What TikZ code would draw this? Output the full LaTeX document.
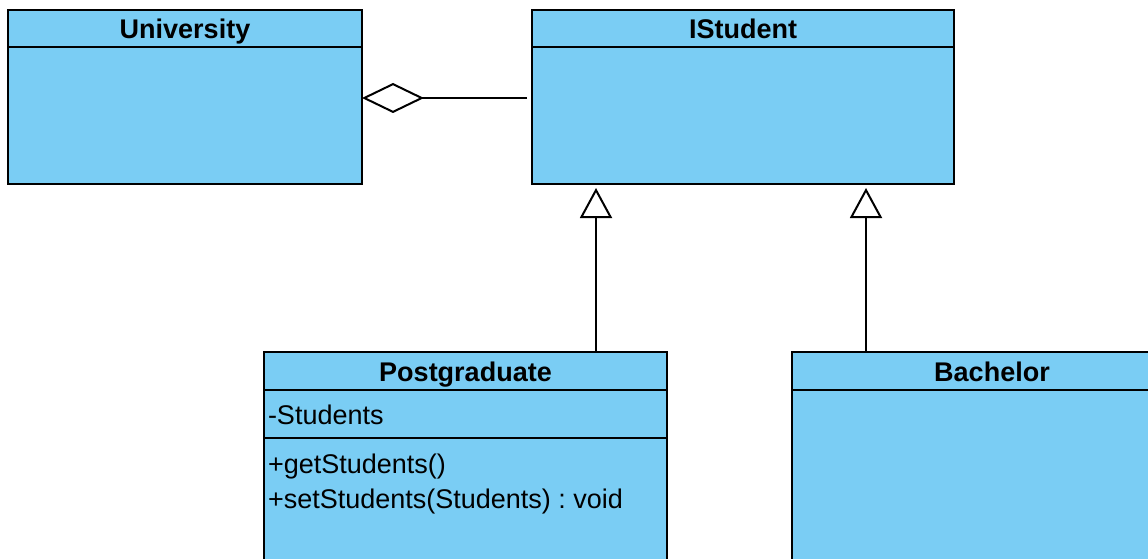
\documentclass[tikz,border=0pt]{standalone}
\usepackage{fontspec}
\setmainfont{Liberation Sans}
\usepackage{tikz}
\usetikzlibrary{positioning}
\usetikzlibrary{arrows.meta}
\definecolor{classblue}{RGB}{122,205,244}
\tikzset{every picture/.style={line width=2pt}}
\frenchspacing

\begin{document}
\begin{tikzpicture}[x=1pt,y=-1pt,
  hd/.style={draw, fill=classblue, anchor=north west, minimum height=37pt, inner sep=0pt, outer sep=0pt, text height=20pt, text depth=0pt, font=\fontsize{27}{32}\selectfont\bfseries},
  cmp/.style={draw, fill=classblue, inner sep=0pt, outer sep=0pt},
  txt/.style={inner sep=0pt, text height=20pt, text depth=0pt, font=\fontsize{27}{32}\selectfont},
  aggr/.style={-{Diamond[open, length=62pt, width=30pt]}},
  gen/.style={-{Triangle[open, length=30pt, width=32pt]}, shorten >=4pt}]
\clip (0,0) rectangle (1148,559);
\fill[white] (0,0) rectangle (1148,559);
% classes
\node[hd, minimum width=354pt] (univhead) at (8,10) {University};
\node[cmp, minimum width=354pt, minimum height=137pt, below=0pt of univhead] (univbody) {};
\node[hd, minimum width=422pt] (ishead) at (532,10) {IStudent};
\node[cmp, minimum width=422pt, minimum height=137pt, below=0pt of ishead] (isbody) {};
\node[hd, minimum width=403pt, minimum height=38pt] (pghead) at (264,352) {Postgraduate};
\node[cmp, minimum width=403pt, minimum height=48pt, below=0pt of pghead] (pgattr) {};
\node[cmp, minimum width=403pt, minimum height=140pt, below=0pt of pgattr] (pgops) {};
\node[hd, minimum width=400pt, minimum height=38pt] (bahead) at (792,352) {Bachelor};
\node[cmp, minimum width=400pt, minimum height=200pt, below=0pt of bahead] (babody) {};
% members
\node[txt, anchor=west] (pgfield) at ([xshift=3pt]pgattr.west) {-Students};
\node[txt, anchor=base west] (pgget) at ([xshift=3pt,yshift=-35pt]pgops.north west) {+getStudents()};
\node[txt, anchor=base west] (pgset) at ([xshift=3pt,yshift=-70pt]pgops.north west) {+setStudents(Students) : void};
% relations
\draw[aggr] ([xshift=-5pt,yshift=17.5pt]isbody.west) -- ([yshift=17.5pt]univbody.east);
\coordinate (pgtop) at ([xshift=332pt]pghead.north west);
\coordinate (batop) at ([xshift=74pt]bahead.north west);
\draw[gen] (pgtop) -- (pgtop |- isbody.south);
\draw[gen] (batop) -- (batop |- isbody.south);
\end{tikzpicture}
\end{document}
